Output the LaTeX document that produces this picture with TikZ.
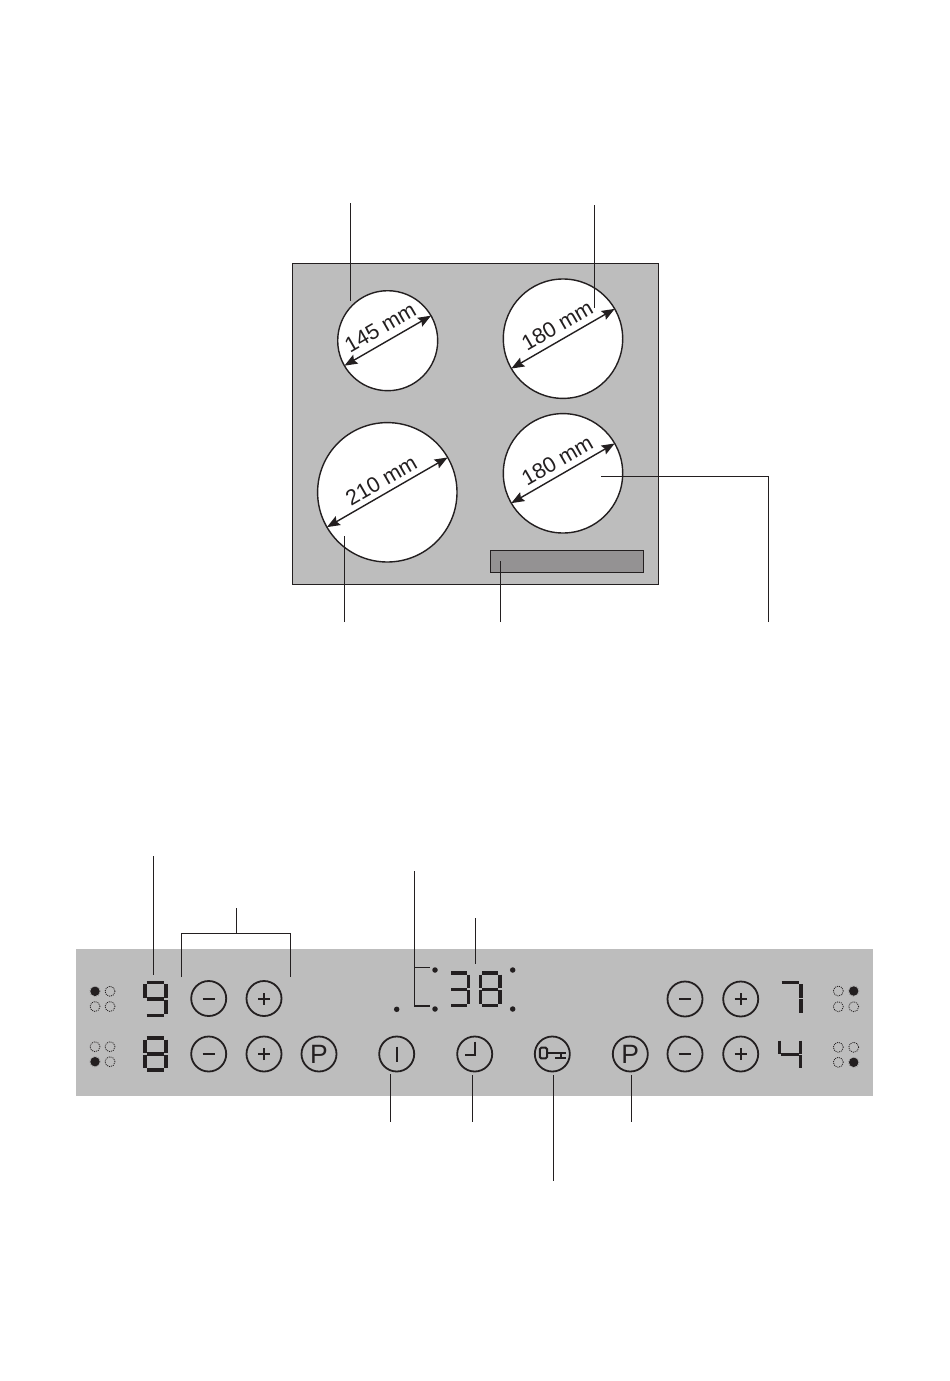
\documentclass[tikz,border=0pt]{standalone}
\usepackage{fontspec}
\setmainfont{Liberation Sans}
\usetikzlibrary{arrows.meta}
\definecolor{panelgray}{HTML}{BDBDBD}
\definecolor{ventgray}{HTML}{949293}
\definecolor{inkc}{HTML}{231F20}
\tikzset{
  zone/.style={draw=inkc,fill=white,circle,line width=1.4pt,inner sep=0pt,outer sep=0pt,minimum size=#1},
  btn/.style={draw=inkc,circle,line width=1.8pt,inner sep=0pt,outer sep=0pt,minimum size=35pt},
  leader/.style={draw=inkc,line width=1.4pt},
  dimarrow/.style={draw=inkc,line width=1.4pt,{Stealth[length=13pt,width=10pt,inset=2pt]}-{Stealth[length=13pt,width=10pt,inset=2pt]}},
  dimtext/.style={text=inkc,rotate=30,inner sep=0pt,font=\fontsize{21.6}{26}\selectfont},
  ptext/.style={text=inkc,inner sep=0pt,font=\fontsize{26.5}{28}\selectfont},
  segline/.style={draw=inkc,line width=3.2pt},
  glyph/.style={draw=inkc,line width=2pt},
  ledon/.style={fill=inkc,circle,inner sep=0pt,minimum size=9.5pt},
  ledoff/.style={draw=inkc,circle,inner sep=0pt,minimum size=10pt,line width=.8pt,dash pattern=on 1pt off 1pt},
  dotn/.style={fill=inkc,circle,inner sep=0pt,minimum size=5.5pt}
}
\def\mysega{(.08,0)--(.92,0)}
\def\mysegb{(1,.05)--(1,.47)}
\def\mysegc{(1,.53)--(1,.95)}
\def\mysegd{(.08,1)--(.92,1)}
\def\mysege{(0,.53)--(0,.95)}
\def\mysegf{(0,.05)--(0,.47)}
\def\mysegg{(.08,.5)--(.92,.5)}
\newcommand\dseg[1]{\edef\mytmp{\noexpand\path[segline] \csname myseg#1\endcsname;}\mytmp}
\newcommand\sevenseg[5]{%
  \begin{scope}[shift={(#1,#2)},x=#3pt,y=-#4pt]
    \foreach \s in {#5}{\dseg{\s}}
  \end{scope}}
\newcommand\minusbtn[3]{\node[btn] (#1) at (#2,#3) {};
  \draw[glyph] ([xshift=-6pt]#1.center) -- ([xshift=6pt]#1.center);}
\newcommand\plusbtn[3]{\node[btn] (#1) at (#2,#3) {};
  \draw[glyph] ([xshift=-6pt]#1.center) -- ([xshift=6pt]#1.center);
  \draw[glyph] ([yshift=-6pt]#1.center) -- ([yshift=6pt]#1.center);}
\newcommand\leds[6]{%
  \foreach \lx in {#1,#2}{\foreach \ly in {#3,#4}{
    \node[ledoff] at (\lx,\ly) {};}}
  \node[fill=panelgray,circle,inner sep=0pt,minimum size=11pt] at (#5,#6) {};
  \node[ledon] at (#5,#6) {};}
\begin{document}
\begin{tikzpicture}[x=1pt,y=-1pt]
\useasboundingbox (0,0) rectangle (950,1381);
% hob
\path[fill=panelgray,draw=inkc,line width=1.2pt] (292.3,263.7) rectangle (658.3,584.3);
\path[fill=ventgray,draw=inkc,line width=1pt] (490.3,550.3) rectangle (643.7,572.7);
\node[zone=100pt] (z1) at (387.7,340.7) {};
\node[zone=119.4pt] (z2) at (563,338.7) {};
\node[zone=139.4pt] (z3) at (387.3,492.3) {};
\node[zone=119.4pt] (z4) at (563,473.3) {};
\draw[dimarrow] (z1.210) -- (z1.30);
\draw[dimarrow] (z2.210) -- (z2.30);
\draw[dimarrow] (z3.210) -- (z3.30);
\draw[dimarrow] (z4.210) -- (z4.30);
\node[dimtext] (t1) at (380.3,327.8) {145 mm};
\node[dimtext] (t2) at (557.2,326) {180 mm};
\node[dimtext] (t3) at (381.2,480.3) {210 mm};
\node[dimtext] (t4) at (557.2,461) {180 mm};
% hob leaders
\coordinate (l1a) at (350.5,203); \coordinate (l1b) at (350.5,301);
\coordinate (l2a) at (594.5,205); \coordinate (l2b) at (594.5,308);
\coordinate (l3a) at (344.5,622); \coordinate (l3b) at (344.5,536);
\coordinate (l4a) at (500.5,622); \coordinate (l4b) at (500.5,561);
\coordinate (l5a) at (768.5,622); \coordinate (l5b) at (768.5,476.5); \coordinate (l5c) at (601,476.5);
\draw[leader] (l1a) -- (l1b);
\draw[leader] (l2a) -- (l2b);
\draw[leader] (l3a) -- (l3b);
\draw[leader] (l4a) -- (l4b);
\draw[leader] (l5a) -- (l5b) -- (l5c);
% control panel
\path[fill=panelgray] (75.7,949.3) rectangle (872.7,1096);
\leds{95}{110}{991.3}{1006.5}{95}{991.3}
\leds{95}{110}{1046.7}{1061.7}{95}{1061.7}
\leds{838.3}{853.7}{991}{1006.7}{853.7}{991}
\leds{838.3}{853.7}{1047.3}{1062.3}{853.7}{1062.3}
\sevenseg{145}{982.5}{21}{33}{a,b,c,d,f,g}
\sevenseg{145}{1038}{21}{32}{a,b,c,d,e,f,g}
\sevenseg{780}{982.5}{21}{32}{a,b,c}
\sevenseg{779.5}{1039}{21}{31}{b,c,f,g}
\sevenseg{449.5}{973}{19}{32.5}{a,b,c,d,g}
\sevenseg{480.5}{973}{19.5}{32.5}{a,b,c,d,e,f,g}
\minusbtn{b1}{208.7}{998.5}
\plusbtn{b2}{264}{998.5}
\minusbtn{b3}{208.7}{1054}
\plusbtn{b4}{264}{1054}
\minusbtn{b5}{685}{999}
\plusbtn{b6}{740.7}{999}
\minusbtn{b7}{685}{1054}
\plusbtn{b8}{740.7}{1054}
\node[btn] (p1) at (319,1054) {}; \node[ptext] at (p1) {P};
\node[btn] (p2) at (630.3,1054) {}; \node[ptext] at (p2) {P};
\node[btn] (on) at (396.7,1054) {};
\draw[glyph] (396.7,1046.7) -- (396.7,1062);
\node[btn] (clk) at (474.7,1054) {};
\draw[glyph] (474.5,1041.5) -- (474.5,1055) -- (465,1055);
\node[btn] (key) at (552.3,1054) {};
\draw[glyph,rounded corners=1.5pt] (539.8,1047.6) rectangle (547,1058.4);
\draw[glyph] (547,1053.3) -- (566,1053.3);
\draw[glyph] (560.5,1053.3) -- (560.5,1058.4);
\draw[glyph] (555,1058.4) -- (566,1058.4);
% indicator dots
\node[dotn] (d1) at (396.7,1009.3) {};
\node[dotn] (d2) at (435,970) {};
\node[dotn] (d3) at (435,1009) {};
\node[dotn] (d4) at (512.7,970) {};
\node[dotn] (d5) at (512.7,1009) {};
% panel leaders
\coordinate (c1a) at (153.5,856); \coordinate (c1b) at (153.5,975);
\draw[leader] (c1a) -- (c1b);
\coordinate (c2t) at (236.5,908); \coordinate (c2m) at (236.5,933.5);
\coordinate (c2l) at (181.5,933.5); \coordinate (c2r) at (290.5,933.5);
\coordinate (c2la) at (181.5,977); \coordinate (c2ra) at (290.5,977);
\draw[leader] (c2t) -- (c2m);
\draw[leader] (c2la) -- (c2l) -- (c2r) -- (c2ra);
\coordinate (c3a) at (414.5,871); \coordinate (c3b) at (414.5,1006);
\coordinate (c3c) at (414.5,967.5); \coordinate (c3d) at (430,967.5); \coordinate (c3e) at (430,1006);
\draw[leader] (c3a) -- (c3b) -- (c3e);
\draw[leader] (c3c) -- (c3d);
\coordinate (c4a) at (475.5,918); \coordinate (c4b) at (475.5,964);
\draw[leader] (c4a) -- (c4b);
\coordinate (c5a) at (390.5,1074); \coordinate (c5b) at (390.5,1122);
\coordinate (c6a) at (472.5,1075); \coordinate (c6b) at (472.5,1122);
\coordinate (c7a) at (553.5,1075); \coordinate (c7b) at (553.5,1181);
\coordinate (c8a) at (631.5,1075); \coordinate (c8b) at (631.5,1122);
\draw[leader] (c5a) -- (c5b);
\draw[leader] (c6a) -- (c6b);
\draw[leader] (c7a) -- (c7b);
\draw[leader] (c8a) -- (c8b);
\end{tikzpicture}
\end{document}
